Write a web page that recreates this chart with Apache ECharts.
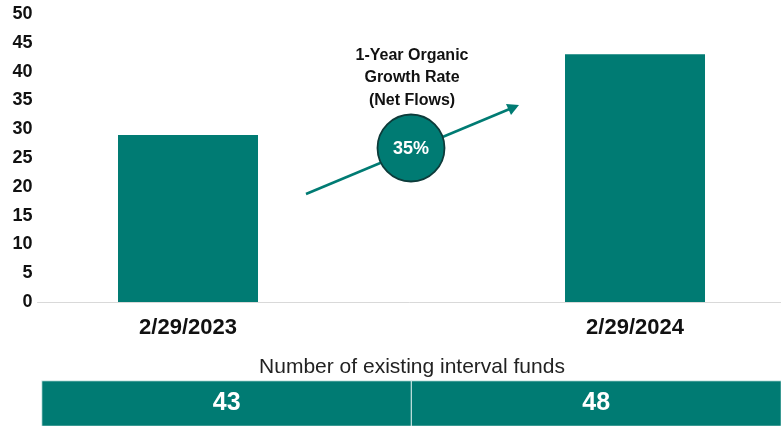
<!DOCTYPE html>
<html>
<head>
<meta charset="utf-8">
<script src="https://cdn.jsdelivr.net/npm/echarts@6/dist/echarts.min.js"></script>
<style>
html,body{margin:0;padding:0;background:#fff;}
#chart{width:781px;height:426px;}
</style>
</head>
<body>
<div id="chart"></div>
<script>
// ---- data ----
var categories = ['2/29/2023', '2/29/2024'];
var netAssets = [29, 43];
var fundCounts = [43, 48];
var yTicks = [0, 5, 10, 15, 20, 25, 30, 35, 40, 45, 50];
var annotationLines = ['1-Year Organic', 'Growth Rate', '(Net Flows)'];
var growthRate = '35%';
var tableTitle = 'Number of existing interval funds';

var TEAL = '#007B73';
var chart = echarts.init(document.getElementById('chart'), null, {renderer: 'canvas'});

var barData = netAssets.map(function (v, i) { return [i, v]; });
var heatData = fundCounts.map(function (v, i) { return [i, 0, v]; });

var option = {
  animation: false,
  backgroundColor: '#ffffff',
  grid: [
    {left: 37.5, right: 0, top: 14, bottom: 124},
    {left: 42, right: 0, top: 381, bottom: 0}
  ],
  xAxis: [
    {
      type: 'value', gridIndex: 0,
      min: -0.3367, max: 1.3266,
      splitLine: {show: false},
      axisTick: {show: false},
      axisLine: {show: true, onZero: false, lineStyle: {color: '#d9d9d9', width: 1}},
      axisLabel: {
        customValues: [0, 1],
        formatter: function (v) { return categories[Math.round(v)]; },
        margin: 15,
        fontFamily: 'Liberation Sans, Arial',
        fontWeight: 'bold', fontSize: 22, color: '#111'
      }
    },
    {
      type: 'category', gridIndex: 1, data: categories,
      show: false
    }
  ],
  yAxis: [
    {
      type: 'value', gridIndex: 0,
      min: yTicks[0], max: yTicks[yTicks.length - 1], interval: 5,
      splitLine: {show: false},
      axisLine: {show: false},
      axisTick: {show: false},
      axisLabel: {
        margin: 5,
        fontFamily: 'Liberation Sans, Arial',
        fontWeight: 'bold', fontSize: 18, color: '#111'
      }
    },
    {
      type: 'category', gridIndex: 1, data: [''], show: false
    }
  ],
  series: [
    {
      type: 'bar', xAxisIndex: 0, yAxisIndex: 0,
      data: barData, barWidth: 140,
      itemStyle: {color: TEAL}
    },
    {
      type: 'heatmap', xAxisIndex: 1, yAxisIndex: 1,
      data: heatData,
      itemStyle: {color: TEAL, borderColor: '#e6f4f2', borderWidth: 1},
      label: {
        show: true,
        formatter: function (p) { return p.value[2]; },
        color: '#fff',
        fontFamily: 'Liberation Sans, Arial',
        fontWeight: 'bold', fontSize: 25
      },
      emphasis: {disabled: true}
    }
  ],
  graphic: [
    {
      type: 'text',
      x: 412, y: 367,
      style: {text: tableTitle, fill: '#222', font: '21px Liberation Sans, Arial', align: 'center', verticalAlign: 'middle'},
      z: 12
    },
    {
      type: 'line',
      shape: {x1: 306, y1: 194, x2: 512, y2: 108},
      style: {stroke: TEAL, lineWidth: 2.5},
      z: 10
    },
    {
      type: 'polygon',
      shape: {points: [[519, 105], [506, 104], [511, 115]]},
      style: {fill: TEAL},
      z: 10
    },
    {
      type: 'circle',
      shape: {cx: 411, cy: 148, r: 33.5},
      style: {fill: TEAL, stroke: '#0d3b3a', lineWidth: 1.8},
      z: 11
    },
    {
      type: 'text',
      x: 411, y: 149,
      style: {text: growthRate, fill: '#fff', font: 'bold 18px Liberation Sans, Arial', align: 'center', verticalAlign: 'middle'},
      z: 12
    },
    {
      type: 'text',
      x: 412, y: 78,
      style: {
        text: annotationLines.join('\n'),
        fill: '#111', font: 'bold 16px Liberation Sans, Arial',
        align: 'center', verticalAlign: 'middle', lineHeight: 22.5
      },
      z: 12
    }
  ]
};
chart.setOption(option);
</script>
</body>
</html>
